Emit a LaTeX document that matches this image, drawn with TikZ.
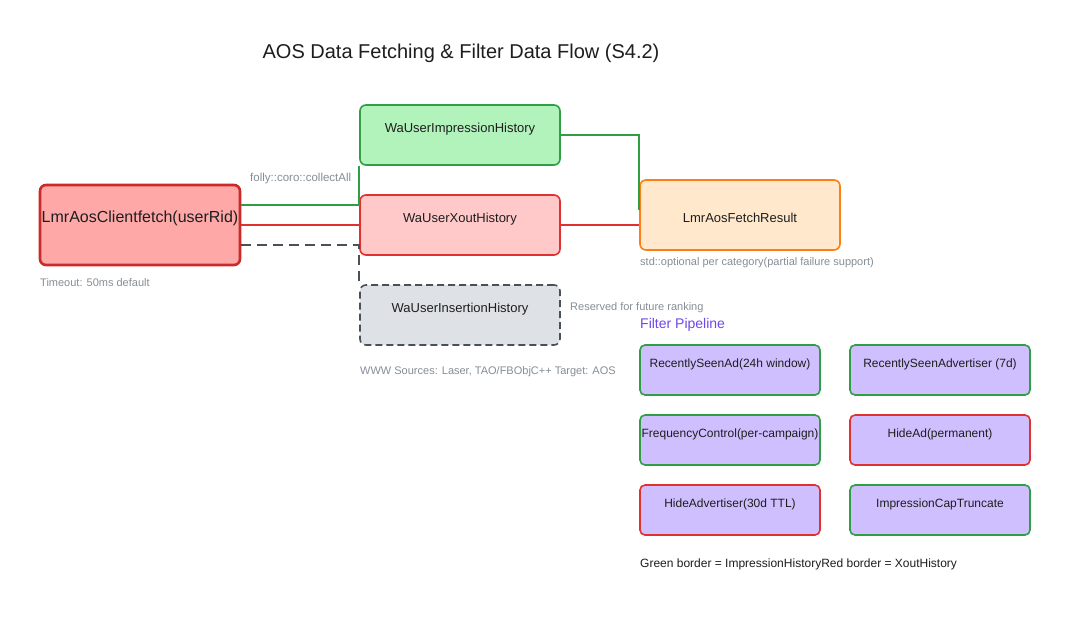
\documentclass[tikz,border=0pt]{standalone}
\usepackage{fontspec}
\setmainfont{Liberation Sans}
\definecolor{ink}{HTML}{1E1E1E}
\definecolor{muted}{HTML}{868E96}
\definecolor{gfill}{HTML}{B2F2BB}
\definecolor{gline}{HTML}{2F9E44}
\definecolor{rfill}{HTML}{FFC9C9}
\definecolor{rline}{HTML}{E03131}
\definecolor{cfill}{HTML}{FFA8A8}
\definecolor{cline}{HTML}{C92A2A}
\definecolor{gyfill}{HTML}{DEE2E6}
\definecolor{gyline}{HTML}{495057}
\definecolor{ofill}{HTML}{FFE8CC}
\definecolor{oline}{HTML}{FD7E14}
\definecolor{pfill}{HTML}{D0BFFF}
\definecolor{ptext}{HTML}{7048E8}
\tikzset{
  box/.style={draw, rounded corners=6pt, line width=1.6pt, inner sep=0pt, minimum width=200pt, minimum height=60pt},
  fbox/.style={draw, rounded corners=5pt, line width=1.6pt, inner sep=0pt, minimum width=180pt, minimum height=50pt, fill=pfill},
  lbl/.style={text=ink, font=\fontsize{13}{15}\selectfont, inner sep=0pt},
  flbl/.style={text=ink, font=\fontsize{12}{14}\selectfont, inner sep=0pt},
  note/.style={text=muted, font=\fontsize{11}{13}\selectfont, inner sep=0pt, anchor=west},
  conn/.style={line width=1.6pt},
}
\begin{document}
\begin{tikzpicture}[x=1pt,y=-1pt]
\fill[white] (0,0) rectangle (1070,635);
\useasboundingbox (0,0) rectangle (1070,635);

\node[text=ink, font=\fontsize{20}{24}\selectfont, inner sep=0pt] (title) at (461,53) {AOS Data Fetching \& Filter Data Flow (S4.2)};

% boxes
\node[box, fill=cfill, draw=cline, line width=2.6pt, minimum height=80pt] (client) at (140,225) {};
\node[text=ink, font=\fontsize{16}{19}\selectfont, inner sep=0pt] (clientt) at (140,218) {LmrAosClientfetch(userRid)};
\node[box, fill=gfill, draw=gline] (imp) at (460,135) {};
\node[lbl] (impt) at (460,129.5) {WaUserImpressionHistory};
\node[box, fill=rfill, draw=rline] (xout) at (460,225) {};
\node[lbl] (xoutt) at (460,219.5) {WaUserXoutHistory};
\node[box, fill=gyfill, draw=gyline, dashed, dash pattern=on 7pt off 4pt] (ins) at (460,315) {};
\node[lbl] (inst) at (460,309) {WaUserInsertionHistory};
\node[box, fill=ofill, draw=oline, minimum height=70pt] (res) at (740,215) {};
\node[lbl] (rest) at (740,217.5) {LmrAosFetchResult};

% notes
\node[note, font=\fontsize{11.5}{13}\selectfont] (n1) at (250,179) {folly::coro::collectAll};
\node[note] (n2) at (40,283) {Timeout: 50ms default};
\node[note] (n3) at (640,263) {std::optional per category(partial failure support)};
\node[note] (n4) at (570,308) {Reserved for future ranking};
\node[note] (n5) at (360,372) {WWW Sources: Laser, TAO/FBObjC++ Target: AOS};
\node[text=ptext, font=\fontsize{14}{17}\selectfont, inner sep=0pt, anchor=west] (fp) at (640,325) {Filter Pipeline};
\node[text=ink, font=\fontsize{12}{14}\selectfont, inner sep=0pt, anchor=west] (leg) at (640,564) {Green border = ImpressionHistoryRed border = XoutHistory};

% filter boxes
\node[fbox, draw=gline] (f1) at (730,370) {};
\node[flbl] (f1t) at (730,364.5) {RecentlySeenAd(24h window)};
\node[fbox, draw=gline] (f2) at (940,370) {};
\node[flbl] (f2t) at (940,364.5) {RecentlySeenAdvertiser (7d)};
\node[fbox, draw=gline] (f3) at (730,440) {};
\node[flbl] (f3t) at (730,434.5) {FrequencyControl(per-campaign)};
\node[fbox, draw=rline] (f4) at (940,440) {};
\node[flbl] (f4t) at (940,434.5) {HideAd(permanent)};
\node[fbox, draw=rline] (f5) at (730,510) {};
\node[flbl] (f5t) at (730,504.5) {HideAdvertiser(30d TTL)};
\node[fbox, draw=gline] (f6) at (940,510) {};
\node[flbl] (f6t) at (940,504.5) {ImpressionCapTruncate};

% connectors
\draw[conn, gline] ([yshift=20pt]client.east) -| (imp.south west);
\draw[conn, rline] (client.east) -- (xout.west);
\draw[conn, gyline, dashed, dash pattern=on 10pt off 6pt] ([yshift=-20pt]client.east) -| (ins.north west);
\draw[conn, gline] (imp.east) -| ([yshift=5pt]res.west);
\draw[conn, rline] (xout.east) -- (xout.east -| res.west);
\end{tikzpicture}
\end{document}
